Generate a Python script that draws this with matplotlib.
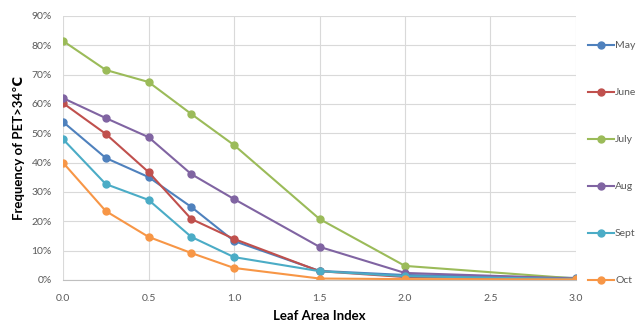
import matplotlib
matplotlib.use("Agg")
import matplotlib.pyplot as plt
from matplotlib.ticker import PercentFormatter

plt.rcParams['font.family'] = ['Lato', 'DejaVu Sans']

# leaf area index values (x)
lai = [0.0, 0.25, 0.5, 0.75, 1.0, 1.5, 2.0, 3.0]

# frequency of PET > 34 (in %)
may = [53.9, 41.6, 35.1, 24.9, 13.3, 3.1, 1.7, 0.7]
june = [60.3, 49.8, 36.8, 20.8, 14.0, 3.0, 1.0, 0.3]
july = [81.5, 71.6, 67.5, 56.6, 46.0, 20.8, 4.8, 0.5]
august = [62.0, 55.2, 48.7, 36.1, 27.6, 11.3, 2.4, 0.5]
september = [48.0, 32.7, 27.3, 14.7, 7.8, 3.0, 1.3, 0.3]
october = [40.0, 23.5, 14.7, 9.2, 4.1, 0.5, 0.3, 0.2]

months = ['May', 'June', 'July', 'Aug', 'Sept', 'Oct']
series = [may, june, july, august, september, october]
colors = ['#4F81BD', '#C0504D', '#9BBB59', '#8064A2', '#4BACC6', '#F79646']

x_ticks = [0.0, 0.5, 1.0, 1.5, 2.0, 2.5, 3.0]
y_ticks = [0, 10, 20, 30, 40, 50, 60, 70, 80, 90]

fig = plt.figure(figsize=(6.39, 3.25), dpi=100)
ax = fig.add_axes([0.0986, 0.1385, 0.8028, 0.8123])

for vals, name, col in zip(series, months, colors):
    ax.plot(lai, vals, color=col, lw=1.5, marker='o', markersize=5, label=name)

ax.set_xlim(0, 3)
ax.set_ylim(0, 90)
ax.set_xticks(x_ticks)
ax.set_xticklabels([f'{v:.1f}' for v in x_ticks])
ax.set_yticks(y_ticks)
ax.yaxis.set_major_formatter(PercentFormatter(decimals=0))

for s in ['top', 'right', 'left']:
    ax.spines[s].set_visible(False)
ax.spines['bottom'].set_color('#BFBFBF')
ax.grid(True, color='#D9D9D9', lw=0.8)
ax.set_axisbelow(True)
ax.tick_params(axis='x', length=0, labelsize=7.5, colors='#595959', pad=10)
ax.tick_params(axis='y', length=0, labelsize=7.5, colors='#595959', pad=8)

ax.set_xlabel('Leaf Area Index', fontsize=9.5, fontweight='bold', labelpad=5)
ax.set_ylabel('Frequency of PET>34℃', fontsize=9.5, fontweight='bold', labelpad=5)

fig.legend(loc='upper left', bbox_to_anchor=(588 / 639, 1 - 41 / 325),
           frameon=False, fontsize=7.5, labelspacing=3.62, handlelength=2.5,
           handletextpad=0.1, borderpad=0, borderaxespad=0, labelcolor='#595959')

fig.savefig('out.png', dpi=100)
